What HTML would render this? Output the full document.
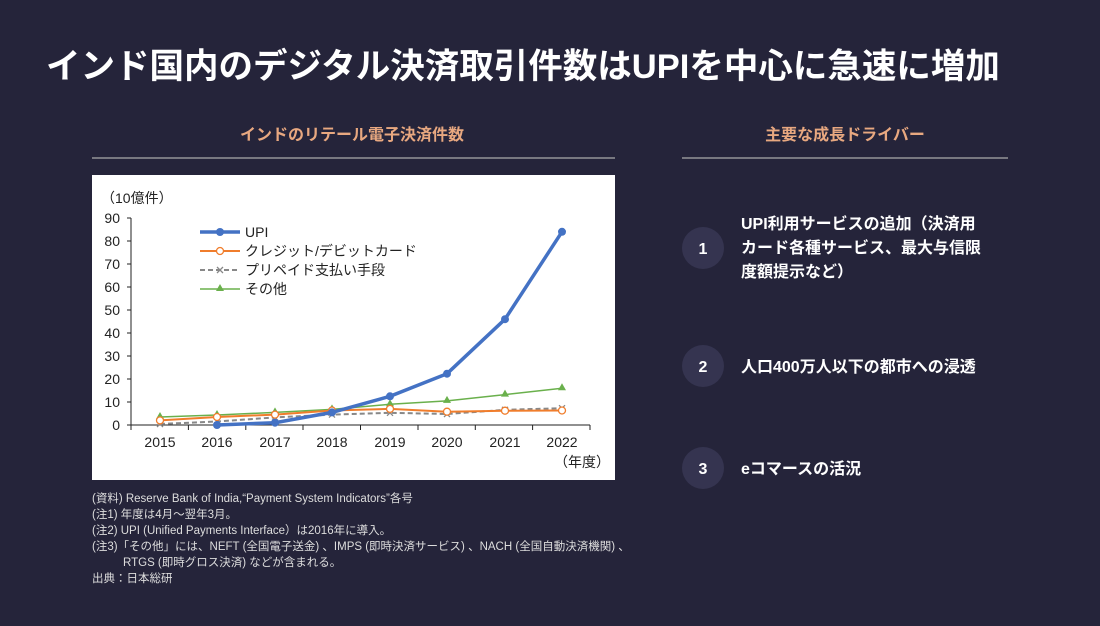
<!DOCTYPE html>
<html><head><meta charset="utf-8"><style>
html,body{margin:0;padding:0;}
body{width:1100px;height:621px;background:#25243a;overflow:hidden;font-family:"Liberation Sans","Noto Sans CJK JP",sans-serif;}
</style></head><body>
<svg width="1100" height="621" viewBox="0 0 1100 621" xmlns="http://www.w3.org/2000/svg" font-family="Liberation Sans, Noto Sans CJK JP, sans-serif">
<rect width="1100" height="621" fill="#25243a"/>
<text x="46" y="78" fill="#fff" font-size="34.5" font-weight="bold">インド国内のデジタル決済取引件数はUPIを中心に急速に増加</text>
<text x="352" y="140" fill="#e8a880" font-size="16" font-weight="bold" text-anchor="middle">インドのリテール電子決済件数</text>
<line x1="92" y1="158" x2="615" y2="158" stroke="#aaa" stroke-width="1.2"/>
<text x="845" y="140" fill="#e8a880" font-size="16" font-weight="bold" text-anchor="middle">主要な成長ドライバー</text>
<line x1="682" y1="158" x2="1008" y2="158" stroke="#aaa" stroke-width="1.2"/>
<rect x="92" y="175" width="523" height="305" fill="#fff"/>
<g font-size="14" fill="#222">
<text x="101" y="203">（10億件）</text>
<g text-anchor="end">
<text x="120" y="430">0</text><text x="120" y="407">10</text><text x="120" y="384">20</text><text x="120" y="361">30</text><text x="120" y="338">40</text><text x="120" y="315">50</text><text x="120" y="292">60</text><text x="120" y="269">70</text><text x="120" y="246">80</text><text x="120" y="223">90</text>
</g>
<g text-anchor="middle">
<text x="160" y="447">2015</text><text x="217" y="447">2016</text><text x="275" y="447">2017</text><text x="332" y="447">2018</text><text x="390" y="447">2019</text><text x="447" y="447">2020</text><text x="505" y="447">2021</text><text x="562" y="447">2022</text>
</g>
<text x="582" y="467" text-anchor="middle">（年度）</text>
</g>
<g stroke="#222" stroke-width="1" fill="none">
<line x1="131" y1="218" x2="131" y2="425"/>
<line x1="131" y1="425" x2="590" y2="425"/>
<path d="M127 218H131M127 241H131M127 264H131M127 287H131M127 310H131M127 333H131M127 356H131M127 379H131M127 402H131M127 425H131"/>
<path d="M131 425V430M188.4 425V430M245.8 425V430M303 425V430M360.5 425V430M418 425V430M475.3 425V430M532.6 425V430M590 425V430"/>
</g>
<polyline fill="none" stroke="#6ab04c" stroke-width="1.5" points="160,417 217,415 275,412.4 332,409.4 390,404.3 447,400.9 505,394.6 562,388.2"/>
<g fill="#6ab04c">
<path d="M160 412l4 7h-8z"/><path d="M217 410l4 7h-8z"/><path d="M275 407.4l4 7h-8z"/><path d="M332 404.4l4 7h-8z"/><path d="M390 399.3l4 7h-8z"/><path d="M447 395.9l4 7h-8z"/><path d="M505 389.6l4 7h-8z"/><path d="M562 383.2l4 7h-8z"/>
</g>
<polyline fill="none" stroke="#888" stroke-width="2" stroke-dasharray="5,3" points="160,424 217,421.5 275,417.4 332,414.6 390,412.8 447,414 505,409.8 562,408.2"/>
<g stroke="#888" stroke-width="1.3">
<path d="M157 421l6 6M163 421l-6 6M214 418.5l6 6M220 418.5l-6 6M272 414.4l6 6M278 414.4l-6 6M329 411.6l6 6M335 411.6l-6 6M387 409.8l6 6M393 409.8l-6 6M444 411l6 6M450 411l-6 6M502 406.8l6 6M508 406.8l-6 6M559 405.2l6 6M565 405.2l-6 6"/>
</g>
<polyline fill="none" stroke="#f07d2c" stroke-width="2" points="160,420.4 217,417 275,414.6 332,410.5 390,408.9 447,411.7 505,410.7 562,410.5"/>
<g fill="#fff" stroke="#f07d2c" stroke-width="1.3">
<circle cx="160" cy="420.4" r="3.5"/><circle cx="217" cy="417" r="3.5"/><circle cx="275" cy="414.6" r="3.5"/><circle cx="332" cy="410.5" r="3.5"/><circle cx="390" cy="408.9" r="3.5"/><circle cx="447" cy="411.7" r="3.5"/><circle cx="505" cy="410.7" r="3.5"/><circle cx="562" cy="410.5" r="3.5"/>
</g>
<polyline fill="none" stroke="#4472c4" stroke-width="3.5" points="217,425 275,422.7 332,412.4 390,396.3 447,373.7 505,319.2 562,231.8"/>
<g fill="#4472c4">
<circle cx="217" cy="425" r="4"/><circle cx="275" cy="422.7" r="4"/><circle cx="332" cy="412.4" r="4"/><circle cx="390" cy="396.3" r="4"/><circle cx="447" cy="373.7" r="4"/><circle cx="505" cy="319.2" r="4"/><circle cx="562" cy="231.8" r="4"/>
</g>
<line x1="200" y1="232" x2="240" y2="232" stroke="#4472c4" stroke-width="3.5"/><circle cx="220" cy="232" r="4" fill="#4472c4"/>
<text x="245" y="237" font-size="14" fill="#222">UPI</text>
<line x1="200" y1="251" x2="240" y2="251" stroke="#f07d2c" stroke-width="2"/><circle cx="220" cy="251" r="3.5" fill="#fff" stroke="#f07d2c" stroke-width="1.3"/>
<text x="245" y="256" font-size="14" fill="#222">クレジット/デビットカード</text>
<line x1="200" y1="270" x2="240" y2="270" stroke="#888" stroke-width="2" stroke-dasharray="5,3"/><path d="M217 267l6 6M223 267l-6 6" stroke="#888" stroke-width="1.3"/>
<text x="245" y="275" font-size="14" fill="#222">プリペイド支払い手段</text>
<line x1="200" y1="289" x2="240" y2="289" stroke="#6ab04c" stroke-width="1.5"/><path d="M220 284l4 7h-8z" fill="#6ab04c"/>
<text x="245" y="294" font-size="14" fill="#222">その他</text>
<g font-size="11.5" fill="#ddd">
<text x="92" y="502">(資料)  Reserve Bank of India,“Payment System Indicators”各号</text>
<text x="92" y="518">(注1)  年度は4月～翌年3月。</text>
<text x="92" y="534">(注2)  UPI (Unified Payments Interface）は2016年に導入。</text>
<text x="92" y="550">(注3)「その他」には、NEFT (全国電子送金) 、IMPS (即時決済サービス) 、NACH (全国自動決済機関) 、</text>
<text x="123" y="566">RTGS (即時グロス決済)  などが含まれる。</text>
<text x="92" y="582">出典：日本総研</text>
</g>
<g fill="#353450"><circle cx="703" cy="248" r="21"/><circle cx="703" cy="366" r="21"/><circle cx="703" cy="468" r="21"/></g>
<g fill="#fff" font-size="16" font-weight="bold">
<text x="703" y="254" text-anchor="middle">1</text><text x="703" y="372" text-anchor="middle">2</text><text x="703" y="474" text-anchor="middle">3</text>
<text x="741" y="229">UPI利用サービスの追加（決済用</text>
<text x="741" y="253">カード各種サービス、最大与信限</text>
<text x="741" y="277">度額提示など）</text>
<text x="741" y="372">人口400万人以下の都市への浸透</text>
<text x="741" y="474">eコマースの活況</text>
</g>
</svg>
</body></html>
